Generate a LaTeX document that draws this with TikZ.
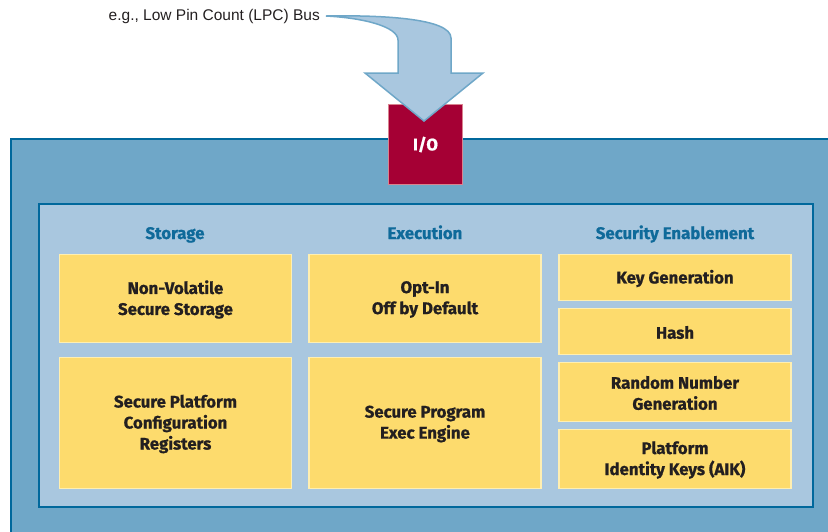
\documentclass[tikz,border=0pt]{standalone}
\usepackage{fontspec}
\setmainfont{Fira Sans}[BoldFeatures={FakeBold=0.8}]
\newfontfamily\labelfont{Liberation Sans}
\definecolor{outerblue}{HTML}{6FA7C8}
\definecolor{edgeblue}{HTML}{00689C}
\definecolor{innerblue}{HTML}{A9C7DF}
\definecolor{boxyellow}{HTML}{FDDB6D}
\definecolor{boxedge}{HTML}{FFEFB0}
\definecolor{iored}{HTML}{A50034}
\definecolor{ioedge}{HTML}{D9838F}
\definecolor{headblue}{HTML}{0F6A9A}
\definecolor{textdark}{HTML}{231F20}
\tikzset{
  unitbox/.style={draw=boxedge, line width=1.5pt, fill=boxyellow, inner sep=0pt,
    align=center, text=textdark, font=\fontsize{16.8}{21}\selectfont\bfseries},
  unittext/.style={align=center, text=textdark, inner sep=0pt, yshift=-1,
    font=\fontsize{16.8}{21}\selectfont\bfseries},
  colhead/.style={text=headblue, anchor=base, inner sep=0pt,
    font=\fontsize{16.8}{19}\selectfont\bfseries},
}
\begin{document}
\begin{tikzpicture}[x=1pt,y=-1pt]
\useasboundingbox (0,0) rectangle (828,531);
\begin{scope}
\clip (0,0) rectangle (828,531);
% chip body
\draw[fill=outerblue, draw=edgeblue, line width=2pt] (11,139) rectangle (840,545);
% inner panel
\draw[fill=innerblue, draw=edgeblue, line width=2pt] (39,204) rectangle (813,507);
\end{scope}

% column headings
\node[colhead] (hs) at (175,239) {Storage};
\node[colhead] (he) at (425,239) {Execution};
\node[colhead] (hc) at (675,239) {Security Enablement};

% storage
\node[unitbox, minimum width=232, minimum height=88] (nv) at (175.5,298.5) {};
\node[unittext] at (nv) {Non-Volatile\\Secure Storage};
\node[unitbox, minimum width=232, minimum height=131] (pcr) at (175.5,423) {};
\node[unittext] at (pcr) {Secure Platform\\Configuration\\Registers};
% execution
\node[unitbox, minimum width=232, minimum height=88] (opt) at (425,298.5) {};
\node[unittext] at (opt) {Opt-In\\Off by Default};
\node[unitbox, minimum width=232, minimum height=131] (exe) at (425,423) {};
\node[unittext] at (exe) {Secure Program\\Exec Engine};
% security enablement
\node[unitbox, minimum width=232, minimum height=46] (key) at (675,277.5) {};
\node[unittext] at (key) {Key Generation};
\node[unitbox, minimum width=232, minimum height=46] (hash) at (675,331.5) {};
\node[unittext] at (hash) {Hash};
\node[unitbox, minimum width=232, minimum height=59] (rng) at (675,392) {};
\node[unittext] at (rng) {Random Number\\Generation};
\node[unitbox, minimum width=232, minimum height=59] (aik) at (675,459) {};
\node[unittext] at (aik) {Platform\\Identity Keys (AIK)};

% I/O port
\node[draw=ioedge, line width=1.5pt, fill=iored, minimum width=74, minimum height=80,
  text=white, font=\fontsize{16.8}{19}\selectfont\bfseries] (io) at (425.5,144.5) {I/O};

% bus label and arrow
\node[anchor=east, inner sep=0pt, font=\labelfont\fontsize{15.5}{17}\selectfont, text=textdark] (bus) at (320,16) {e.g., Low Pin Count (LPC) Bus};
\coordinate (tip) at (424,121);
\draw[fill=innerblue, draw=outerblue, line width=1.5pt, line join=miter]
  ([xshift=6]bus.east) .. controls (380,15) and (451,18) .. (451,38)
  -- (451,73) -- (483,73) -- (tip) -- (365,73) -- (398,73) -- (398,40)
  .. controls (398,27) and (365,18) .. ([xshift=6]bus.east) -- cycle;
\end{tikzpicture}
\end{document}
